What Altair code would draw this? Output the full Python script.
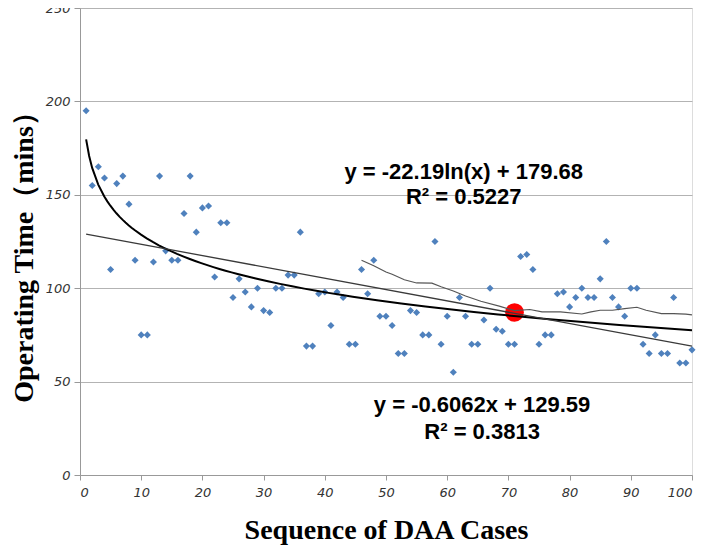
import altair as alt
import pandas as pd

# ---- data ----
case_no = list(range(1, 101))
op_time = [
    195, 155, 165, 159, 110, 156, 160, 145, 115, 75,
    75, 114, 160, 120, 115, 115, 140, 160, 130, 143,
    144, 106, 135, 135, 95, 105, 98, 90, 100, 88,
    87, 100, 100, 107, 107, 130, 69, 69, 97, 98,
    80, 98, 95, 70, 70, 110, 97, 115, 85, 85,
    80, 65, 65, 88, 87, 75, 75, 125, 70, 85,
    55, 95, 85, 70, 70, 83, 100, 78, 77, 70,
    70, 117, 118, 110, 70, 75, 75, 97, 98, 90,
    95, 100, 95, 95, 105, 125, 95, 90, 85, 100,
    100, 70, 65, 75, 65, 65, 95, 60, 60, 67,
]

# smoothed curve
ma_x = [46, 48, 50, 51, 53, 55, 57.5, 59, 61, 63, 65.5, 68.5, 71, 73.5, 75.5,
        78.5, 82, 83.5, 85, 87, 89, 91, 92.5, 95, 97, 99, 100]
ma_y = [115, 112, 108.7, 107.5, 104.5, 102.8, 102.7, 100.8, 98.5, 95.8, 93, 90.4,
        88, 88.6, 87.3, 87.3, 86.2, 87.3, 88.2, 88.2, 89.1, 89.8, 88.2, 86.4,
        86.4, 86.1, 85.7]

# highlighted point
mark_x = [71]
mark_y = [87]

# annotations
ann_text = ["y = -22.19ln(x) + 179.68", "R² = 0.5227",
            "y = -0.6062x + 129.59", "R² = 0.3813"]
ann_x = [62.7, 62.7, 65.7, 65.7]
ann_y = [162.2, 148.8, 37.4, 23.2]

pts = pd.DataFrame({"x": case_no, "y": op_time})
ma = pd.DataFrame({"x": ma_x, "y": ma_y})
mk = pd.DataFrame({"x": mark_x, "y": mark_y})
ann = pd.DataFrame({"x": ann_x, "y": ann_y, "t": ann_text})

xscale = alt.Scale(domain=[0, 100], nice=False, zero=False)
yscale = alt.Scale(domain=[0, 250], nice=False)

xaxis = alt.Axis(
    values=list(range(0, 101, 10)), grid=False,
    title="Sequence of DAA Cases",
    titleFont="Liberation Serif", titleFontSize=28, titleFontWeight="bold",
    titleColor="#000000", titleY=55, titleX=306, titleBaseline="middle",
    labelFont="DejaVu Sans", labelFontStyle="italic", labelFontSize=13,
    labelColor="#333333", labelPadding=6,
    tickSize=5, tickColor="#999999", domainColor="#999999",
)
yaxis = alt.Axis(
    values=list(range(0, 251, 50)), grid=True, gridColor="#b3b3b3",
    title="Operating Time（mins）",
    titleFont="Liberation Serif", titleFontSize=28, titleFontWeight="bold",
    titleColor="#000000", titleX=-56, titleY=242, titleAngle=270,
    titleAlign="center", titleBaseline="middle",
    labelFont="DejaVu Sans", labelFontStyle="italic", labelFontSize=13,
    labelColor="#333333", labelPadding=4,
    tickSize=6, tickColor="#999999", domainColor="#999999",
)

base = alt.Chart(pts)

scatter = base.mark_point(shape="diamond", filled=True, size=50,
                          color="#4F81BD", opacity=1).encode(
    x=alt.X("x:Q", scale=xscale, axis=xaxis),
    y=alt.Y("y:Q", scale=yscale, axis=yaxis),
)

red = alt.Chart(mk).mark_circle(size=350, color="#FF0000", opacity=1).encode(
    x="x:Q", y="y:Q")

log_fit = base.transform_regression(
    "x", "y", method="log", extent=[1, 100]
).mark_line(color="#000000", strokeWidth=2).encode(x="x:Q", y="y:Q")

lin_fit = base.transform_regression(
    "x", "y", method="linear", extent=[1, 100]
).mark_line(color="#3a3a3a", strokeWidth=1.3).encode(x="x:Q", y="y:Q")

ma_line = alt.Chart(ma).mark_line(color="#555555", strokeWidth=1.2).encode(
    x="x:Q", y="y:Q")

texts = alt.Chart(ann).mark_text(
    font="Liberation Sans", fontWeight="bold", fontSize=22,
    align="center", baseline="middle", color="#000000"
).encode(x="x:Q", y="y:Q", text="t:N")

chart = alt.layer(scatter, red, log_fit, lin_fit, ma_line, texts).properties(
    width=612, height=467,
    autosize=alt.AutoSizeParams(type="none"),
    padding={"left": 72, "top": 0, "right": 9, "bottom": 73},
).configure_view(stroke=None).configure(background="white")

chart.save("out.html", embed_options={"renderer": "svg", "actions": False})
